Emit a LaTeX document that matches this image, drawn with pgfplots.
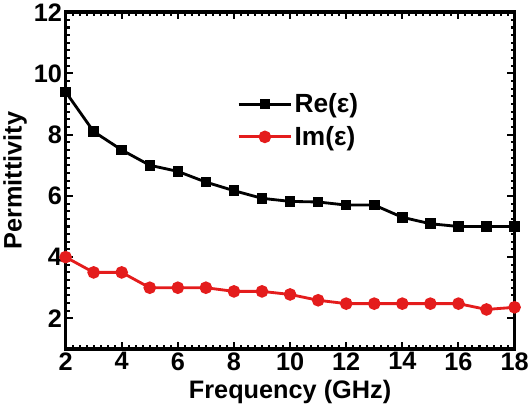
\documentclass[border=0pt]{standalone}
\usepackage{fontspec}
\setmainfont{Liberation Sans}
\usepackage{pgfplots}
\pgfplotsset{compat=1.18}
\definecolor{imred}{RGB}{228,28,28}
\begin{document}
\begin{tikzpicture}
\begin{axis}[
    scale only axis, width=444pt, height=333pt,
    xmin=2, xmax=18, ymin=1, ymax=12,
    xtick={2,4,...,18}, ytick={2,4,...,12},
    minor x tick num=7, minor y tick num=7,
    tick align=inside, major tick length=7pt, minor tick length=4pt,
    every tick/.style={line width=2pt, black},
    axis line style={line width=3.5pt},
    /pgf/number format/assume math mode=true,
    tick label style={font=\fontsize{25}{27}\selectfont\bfseries},
    xlabel={Frequency (GHz)}, ylabel={Permittivity},
    label style={font=\fontsize{25}{27}\selectfont\bfseries},
    xlabel style={yshift=-3pt},
    legend style={at={(0.375,0.77)}, anchor=north west, draw=none, fill=none,
        font=\fontsize{26}{29}\selectfont\bfseries, row sep=8pt},
    legend cell align=left,
    legend image code/.code={\draw[mark repeat=2,mark phase=2,#1]
        plot coordinates {(0pt,0pt) (26pt,0pt) (52pt,0pt)};},
]
% real part
\addplot[black, line width=2.8pt, mark=square*, mark size=3.8pt] coordinates {
    (2,9.4) (3,8.1) (4,7.5) (5,7.0) (6,6.8) (7,6.45) (8,6.17) (9,5.92) (10,5.82)
    (11,5.8) (12,5.7) (13,5.7) (14,5.3) (15,5.09) (16,5.0) (17,5.0) (18,5.0)};
% imaginary part
\addplot[imred, line width=2.8pt, mark=*, mark size=4.8pt] coordinates {
    (2,4.0) (3,3.5) (4,3.5) (5,3.0) (6,3.0) (7,3.0) (8,2.88) (9,2.88) (10,2.78)
    (11,2.59) (12,2.48) (13,2.48) (14,2.48) (15,2.48) (16,2.48) (17,2.29) (18,2.36)};
\legend{Re(ε), Im(ε)}
\end{axis}
\end{tikzpicture}
\end{document}
